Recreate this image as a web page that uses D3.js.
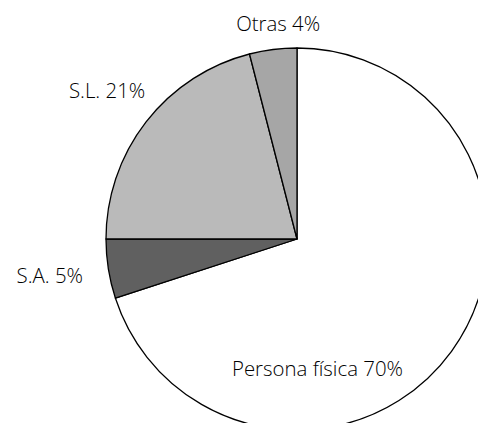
<!DOCTYPE html>
<html>
<head>
<meta charset="utf-8">
<script src="https://cdn.jsdelivr.net/npm/d3@7"></script>
<style>
  body { margin: 0; background: #fff; }
  svg { display: block; }
  text { font-family: "Open Sans", sans-serif; font-size: 20.4px; font-weight: 300; fill: #000; }
</style>
</head>
<body>
<svg></svg>
<script>
// data
var labels = ['Persona física', 'S.A.', 'S.L.', 'Otras'];
var values = [70, 5, 21, 4];
var fills = ['#ffffff', '#606060', '#bababa', '#a6a6a6'];

var width = 478;
var height = 423;
var cx = 297, cy = 239, radius = 191;

// label placement (degrees clockwise from top, distance from centre)
var labelAngle = [171, 261.5, 308, 355];
var labelDist = [131, 250, 241, 216];

var svg = d3.select('svg')
	.attr('width', width)
	.attr('height', height);

var g = svg.append('g')
	.attr('transform', 'translate(' + cx + ',' + cy + ')');

var pie = d3.pie().sort(null).value(d => d);
var arc = d3.arc().innerRadius(0).outerRadius(radius);

var arcs = pie(values);

g.selectAll('path')
	.data(arcs)
	.enter()
	.append('path')
	.attr('d', arc)
	.attr('fill', (d, i) => fills[i])
	.attr('stroke', '#000')
	.attr('stroke-width', 1.3)
	.attr('stroke-linejoin', 'round');

g.selectAll('text')
	.data(arcs)
	.enter()
	.append('text')
	.attr('text-anchor', 'middle')
	.attr('dy', '0.35em')
	.attr('x', (d, i) => labelDist[i] * Math.sin(labelAngle[i] * Math.PI / 180))
	.attr('y', (d, i) => -labelDist[i] * Math.cos(labelAngle[i] * Math.PI / 180))
	.text((d, i) => labels[i] + ' ' + values[i] + '%');
</script>
</body>
</html>
